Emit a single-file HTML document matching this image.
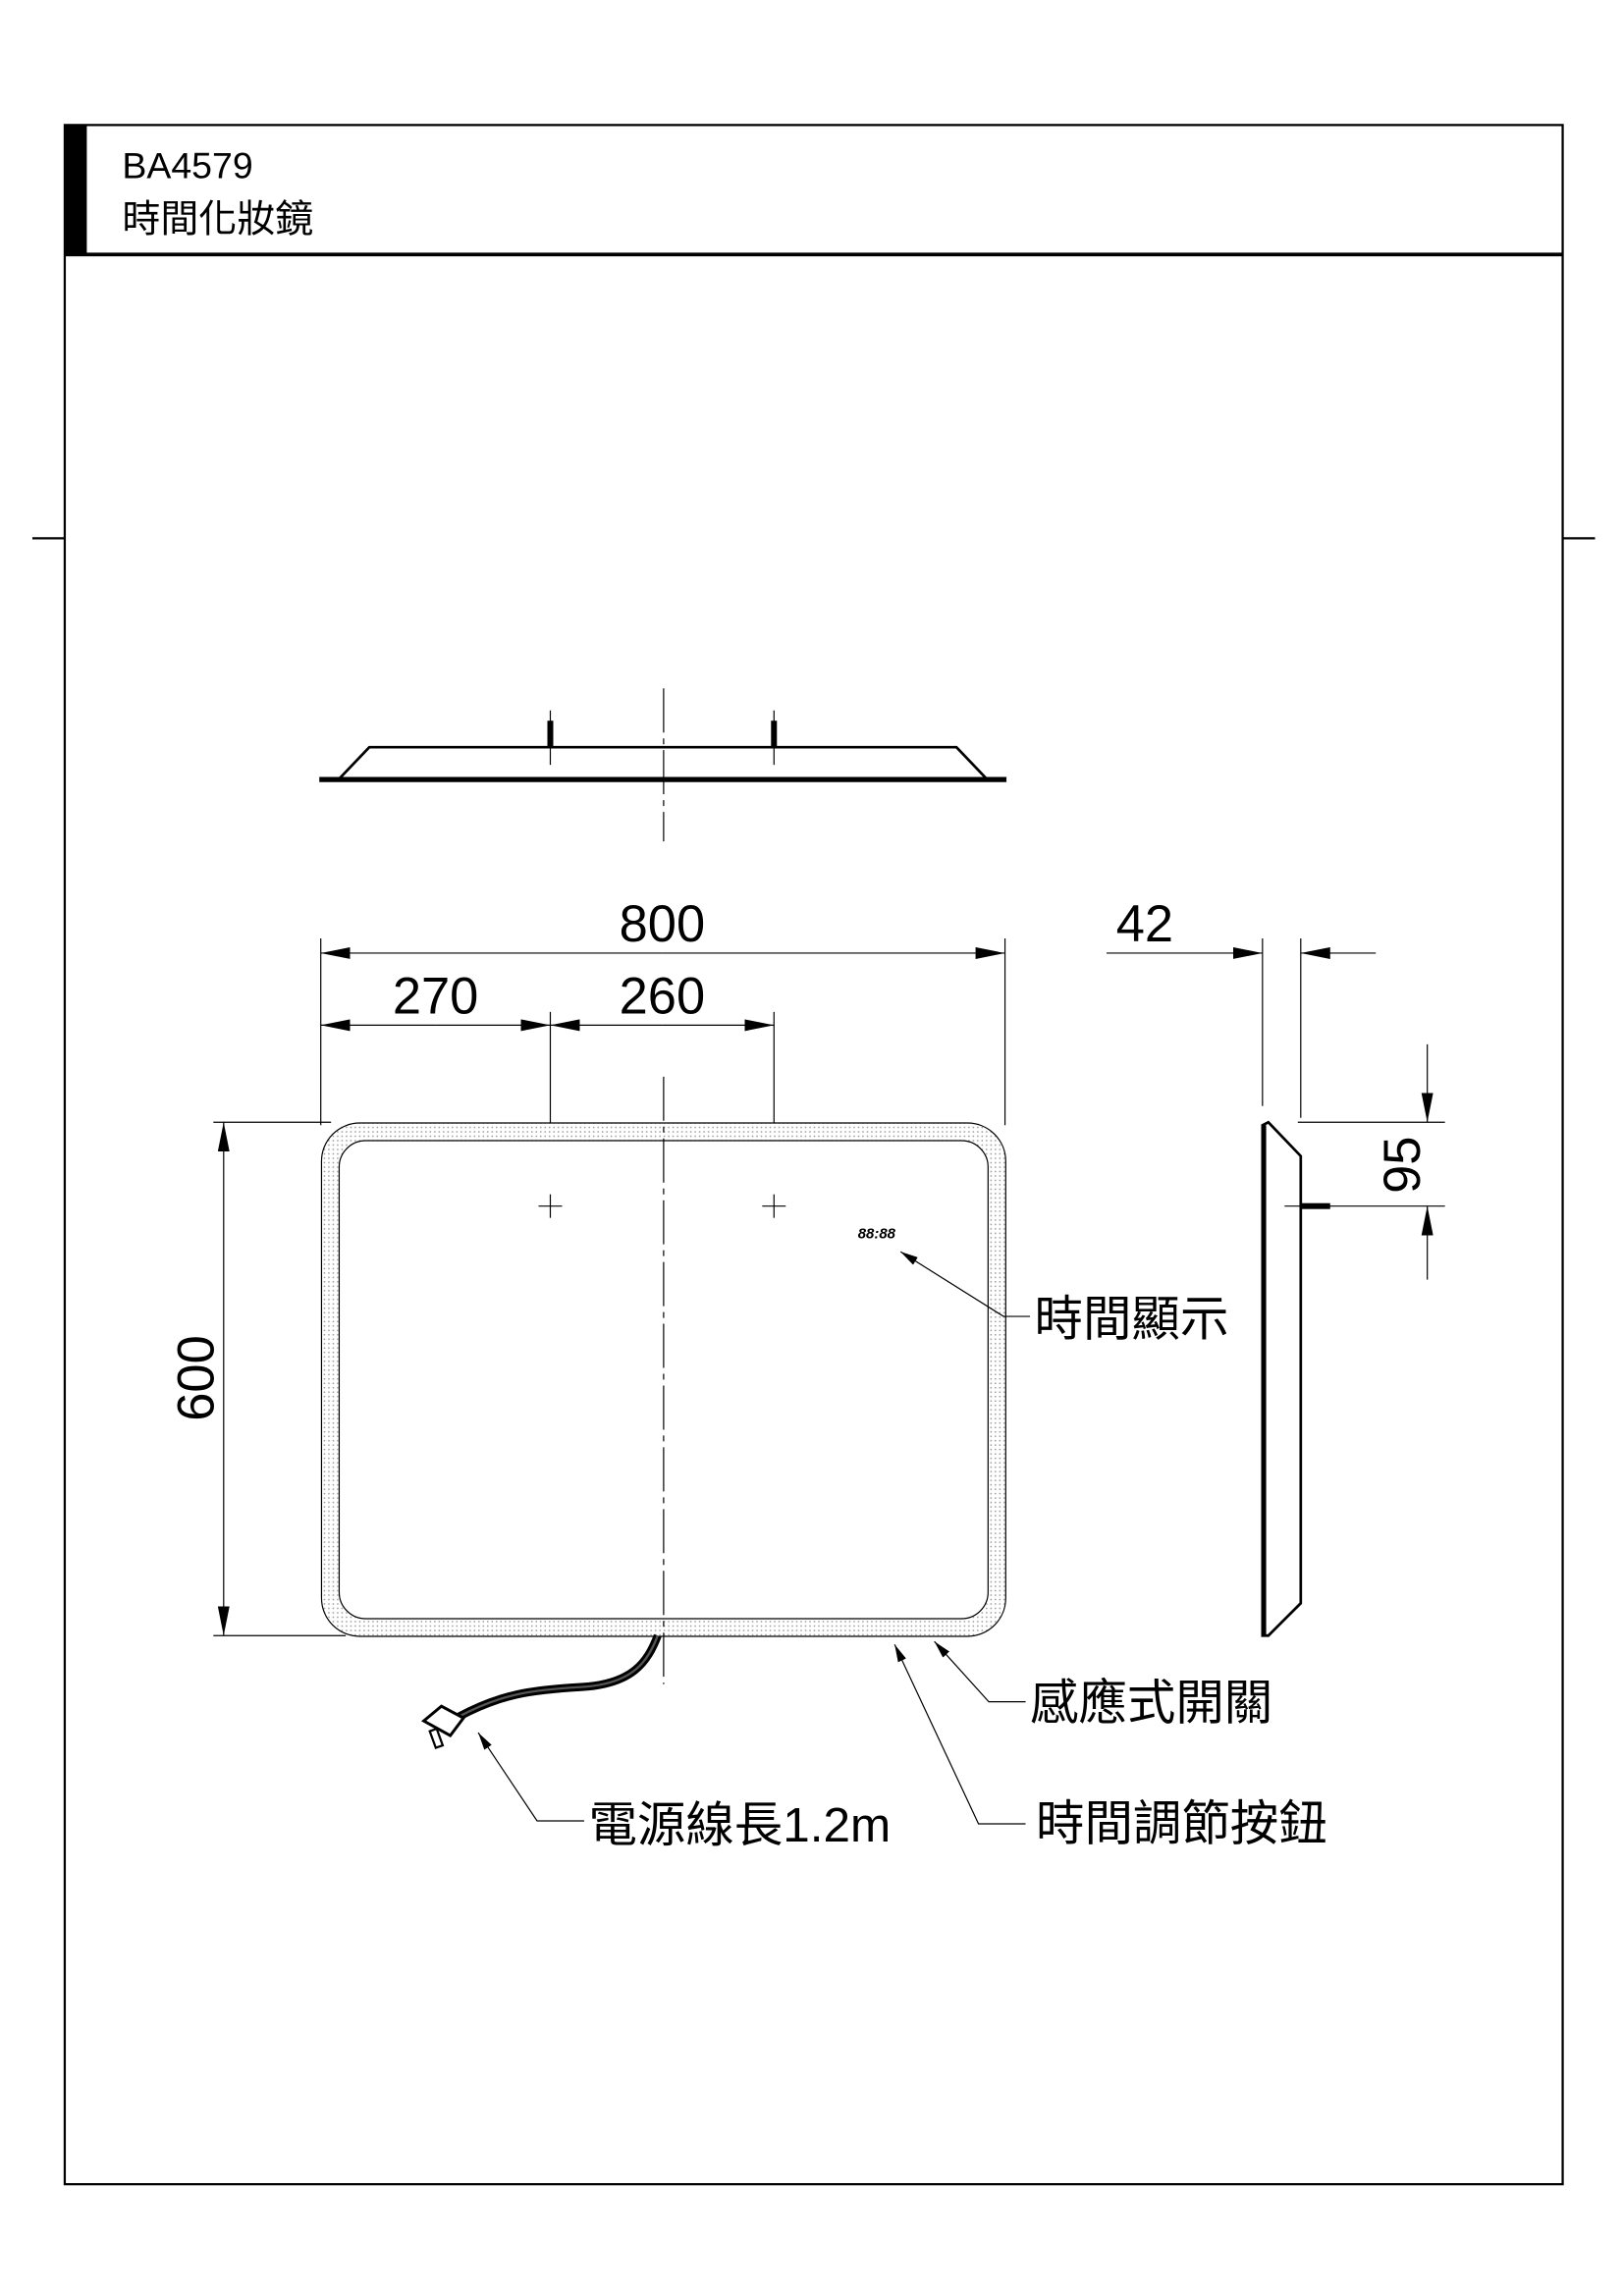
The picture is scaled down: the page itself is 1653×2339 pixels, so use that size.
<!DOCTYPE html>
<html><head><meta charset="utf-8"><style>
html,body{margin:0;padding:0;background:#fff;}
svg{display:block;}
text{font-family:"Liberation Sans","Noto Sans CJK TC",sans-serif;fill:#000;}
</style></head><body>
<svg width="1653" height="2339" viewBox="0 0 1103 1561" preserveAspectRatio="none" xmlns="http://www.w3.org/2000/svg">
<defs>
<pattern id="dots" width="3" height="3" patternUnits="userSpaceOnUse"><rect width="3" height="3" fill="#fff"/><circle cx="1.5" cy="1.5" r="0.55" fill="#999"/></pattern>
<marker id="ar" viewBox="0 0 20 8" refX="20" refY="4" markerWidth="20" markerHeight="8" markerUnits="userSpaceOnUse" orient="auto"><path d="M0,0 L20,4 L0,8 z" fill="#000"/></marker>
<marker id="sa" viewBox="0 0 12 6" refX="12" refY="3" markerWidth="12" markerHeight="6" markerUnits="userSpaceOnUse" orient="auto"><path d="M0,0 L12,3 L0,6 z" fill="#000"/></marker>
</defs>
<rect x="44" y="85" width="1018" height="1400" fill="none" stroke="#000" stroke-width="1.5"/>
<line x1="44" y1="173" x2="1062" y2="173" stroke="#000" stroke-width="2.5"/>
<rect x="44" y="85" width="15" height="88" fill="#000"/>
<line x1="22" y1="366" x2="44" y2="366" stroke="#000" stroke-width="1.5"/>
<line x1="1062" y1="366" x2="1084" y2="366" stroke="#000" stroke-width="1.5"/>
<text x="83" y="121" font-size="25">BA4579</text>
<text x="83" y="158" font-size="26">時間化妝鏡</text>

<line x1="217" y1="530" x2="684" y2="530" stroke="#000" stroke-width="3.5"/>
<polyline points="230,530 251,508 650,508 671,530" fill="none" stroke="#000" stroke-width="1.8"/>
<line x1="451" y1="468" x2="451" y2="572" stroke="#000" stroke-width="0.8" stroke-dasharray="30,4,4,4"/>
<line x1="374" y1="483" x2="374" y2="520" stroke="#000" stroke-width="0.8"/>
<line x1="526" y1="483" x2="526" y2="520" stroke="#000" stroke-width="0.8"/>
<rect x="372" y="490" width="4" height="18" fill="#000"/>
<rect x="524" y="490" width="4" height="18" fill="#000"/>

<g stroke="#000" stroke-width="0.8" fill="none">
<line x1="218" y1="638" x2="218" y2="765"/>
<line x1="683" y1="638" x2="683" y2="765"/>
<line x1="374" y1="688" x2="374" y2="826"/>
<line x1="526" y1="688" x2="526" y2="826"/>
<line x1="450" y1="648" x2="218" y2="648" marker-end="url(#ar)"/>
<line x1="450" y1="648" x2="683" y2="648" marker-end="url(#ar)"/>
<line x1="296" y1="697" x2="218" y2="697" marker-end="url(#ar)"/>
<line x1="296" y1="697" x2="374" y2="697" marker-end="url(#ar)"/>
<line x1="450" y1="697" x2="374" y2="697" marker-end="url(#ar)"/>
<line x1="450" y1="697" x2="526" y2="697" marker-end="url(#ar)"/>
</g>
<text x="450" y="640" font-size="35" text-anchor="middle">800</text>
<text x="296" y="689" font-size="35" text-anchor="middle">270</text>
<text x="450" y="689" font-size="35" text-anchor="middle">260</text>

<rect x="218.5" y="763.5" width="465" height="349" rx="26" fill="url(#dots)" stroke="#000" stroke-width="0.8"/>
<rect x="230.5" y="775.5" width="441" height="325" rx="18" fill="#fff" stroke="#000" stroke-width="0.8"/>
<line x1="451" y1="732" x2="451" y2="1145" stroke="#000" stroke-width="0.8" stroke-dasharray="30,4,4,4"/>
<g stroke="#000" stroke-width="0.8">
<line x1="366" y1="820" x2="382" y2="820"/><line x1="374" y1="812" x2="374" y2="828"/>
<line x1="518" y1="820" x2="534" y2="820"/><line x1="526" y1="812" x2="526" y2="828"/>
</g>
<text x="583" y="842" font-size="10" font-style="italic" font-weight="bold">88:88</text>

<g stroke="#000" stroke-width="0.8" fill="none">
<line x1="145" y1="763" x2="225" y2="763"/>
<line x1="145" y1="1112" x2="235" y2="1112"/>
<line x1="152" y1="937" x2="152" y2="763" marker-end="url(#ar)"/>
<line x1="152" y1="937" x2="152" y2="1112" marker-end="url(#ar)"/>
</g>
<text transform="translate(145,937) rotate(-90)" font-size="35" text-anchor="middle">600</text>

<polygon points="858,765 862,763 884,786 884,1090 862,1112 858,1112" fill="#fff" stroke="#000" stroke-width="1.8"/>
<line x1="859" y1="765" x2="859" y2="1112" stroke="#000" stroke-width="3"/>
<line x1="873" y1="820" x2="890" y2="820" stroke="#000" stroke-width="0.8"/>
<rect x="884" y="818" width="20" height="4" fill="#000"/>
<g stroke="#000" stroke-width="0.8" fill="none">
<line x1="858" y1="638" x2="858" y2="752"/>
<line x1="884" y1="638" x2="884" y2="760"/>
<line x1="752" y1="648" x2="858" y2="648" marker-end="url(#ar)"/>
<line x1="935" y1="648" x2="884" y2="648" marker-end="url(#ar)"/>
<line x1="882" y1="763" x2="982" y2="763"/>
<line x1="890" y1="820" x2="982" y2="820"/>
<line x1="970" y1="710" x2="970" y2="763" marker-end="url(#ar)"/>
<line x1="970" y1="870" x2="970" y2="820" marker-end="url(#ar)"/>
</g>
<text x="778" y="640" font-size="35" text-anchor="middle">42</text>
<text transform="translate(965,792) rotate(-90)" font-size="35" text-anchor="middle">95</text>

<path d="M447,1112 C440,1130 430,1145 395,1147 C360,1149 340,1152 312,1167" fill="none" stroke="#000" stroke-width="5.5"/>
<path d="M447,1112 C440,1130 430,1145 395,1147 C360,1149 340,1152 312,1167" fill="none" stroke="#555" stroke-width="1.5"/>
<polygon points="288,1170 300,1160 315,1168 306,1180" fill="#fff" stroke="#000" stroke-width="2"/>
<rect x="294" y="1176" width="5" height="12" fill="#fff" stroke="#000" stroke-width="1.5" transform="rotate(-20 296 1182)"/>

<g stroke="#000" stroke-width="0.8" fill="none">
<polyline points="700,895 682,895 612,851" marker-end="url(#sa)"/>
<polyline points="697,1157 672,1157 635,1116" marker-end="url(#sa)"/>
<polyline points="697,1240 665,1240 608,1118" marker-end="url(#sa)"/>
<polyline points="397,1238 365,1238 325,1178" marker-end="url(#sa)"/>
</g>
<text x="703" y="908" font-size="33">時間顯示</text>
<text x="700" y="1169" font-size="33">感應式開關</text>
<text x="704" y="1251" font-size="33">時間調節按鈕</text>
<text x="400" y="1252" font-size="33">電源線長1.2m</text>
</svg>
</body></html>
